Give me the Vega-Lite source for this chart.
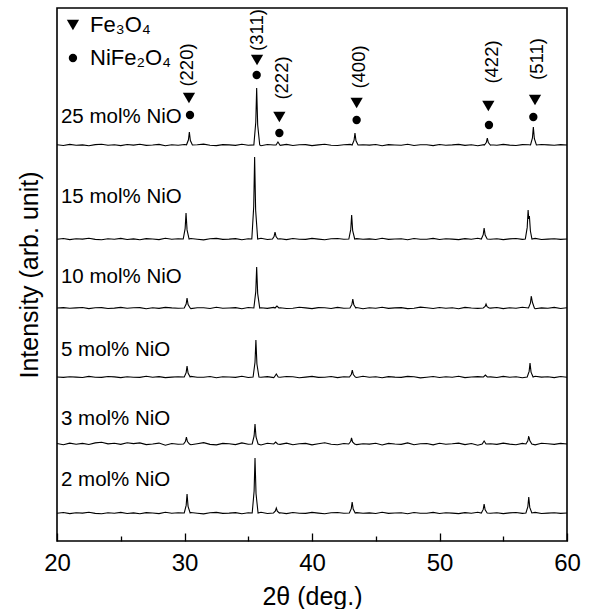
{
  "$schema": "https://vega.github.io/schema/vega-lite/v6.json",
  "width": 510,
  "height": 533,
  "autosize": "none",
  "padding": {"left": 57, "top": 8, "right": 22, "bottom": 68},
  "background": "white",
  "config": {
    "view": {"stroke": "#000", "strokeWidth": 1.6},
    "font": "Liberation Sans"
  },
  "datasets": {
    "trace": [
      {"s":"25","x":20,"y":396.3},{"s":"25","x":20.5,"y":395.5},{"s":"25","x":21,"y":396.6},{"s":"25","x":21.5,"y":395.8},{"s":"25","x":22,"y":396.1},{"s":"25","x":22.5,"y":395.3},{"s":"25","x":23,"y":396.4},{"s":"25","x":23.5,"y":396.8},{"s":"25","x":24,"y":395.7},{"s":"25","x":24.5,"y":396.2},{"s":"25","x":25,"y":395.4},{"s":"25","x":25.5,"y":396.5},{"s":"25","x":26,"y":395.9},{"s":"25","x":26.5,"y":396.7},{"s":"25","x":27,"y":395.6},{"s":"25","x":27.5,"y":396},{"s":"25","x":28,"y":396.6},{"s":"25","x":28.5,"y":395.2},{"s":"25","x":29,"y":396.3},{"s":"25","x":29.5,"y":395.8},{"s":"25","x":30,"y":396.5},
      {"s":"25","x":30.16,"y":396.2},{"s":"25","x":30.31,"y":401.2},{"s":"25","x":30.38,"y":409},{"s":"25","x":30.46,"y":400.5},{"s":"25","x":30.62,"y":396},
      {"s":"25","x":31,"y":396.2},{"s":"25","x":31.5,"y":396.9},{"s":"25","x":32,"y":395.7},{"s":"25","x":32.5,"y":395.4},{"s":"25","x":33,"y":396.4},{"s":"25","x":33.5,"y":396.1},{"s":"25","x":34,"y":395.6},{"s":"25","x":34.5,"y":396.7},{"s":"25","x":35,"y":395.8},
      {"s":"25","x":35.44,"y":396.1},{"s":"25","x":35.59,"y":418.8},{"s":"25","x":35.66,"y":453},{"s":"25","x":35.74,"y":416},{"s":"25","x":35.9,"y":396},
      {"s":"25","x":36,"y":395.3},{"s":"25","x":36.5,"y":396.5},{"s":"25","x":37,"y":396},
      {"s":"25","x":37.18,"y":396},{"s":"25","x":37.33,"y":399},{"s":"25","x":37.48,"y":396},
      {"s":"25","x":37.5,"y":395.7},{"s":"25","x":38,"y":396.6},{"s":"25","x":38.5,"y":395.5},{"s":"25","x":39,"y":396.2},{"s":"25","x":39.5,"y":396.4},{"s":"25","x":40,"y":395.4},{"s":"25","x":40.5,"y":396.1},{"s":"25","x":41,"y":396.8},{"s":"25","x":41.5,"y":395.8},{"s":"25","x":42,"y":395.5},{"s":"25","x":42.5,"y":396.3},{"s":"25","x":43,"y":396.6},
      {"s":"25","x":43.15,"y":396},{"s":"25","x":43.3,"y":400.8},{"s":"25","x":43.37,"y":408},{"s":"25","x":43.45,"y":400.2},{"s":"25","x":43.61,"y":396},
      {"s":"25","x":44,"y":396.2},{"s":"25","x":44.5,"y":395.9},{"s":"25","x":45,"y":396.5},{"s":"25","x":45.5,"y":395.3},{"s":"25","x":46,"y":396.4},{"s":"25","x":46.5,"y":396},{"s":"25","x":47,"y":395.7},{"s":"25","x":47.5,"y":396.7},{"s":"25","x":48,"y":395.5},{"s":"25","x":48.5,"y":396.2},{"s":"25","x":49,"y":396.3},{"s":"25","x":49.5,"y":395.4},{"s":"25","x":50,"y":396.5},{"s":"25","x":50.5,"y":395.8},{"s":"25","x":51,"y":396.1},{"s":"25","x":51.5,"y":396.6},{"s":"25","x":52,"y":395.6},{"s":"25","x":52.5,"y":396.3},{"s":"25","x":53,"y":395.2},{"s":"25","x":53.5,"y":396.4},
      {"s":"25","x":53.53,"y":396},{"s":"25","x":53.68,"y":398.8},{"s":"25","x":53.75,"y":403},{"s":"25","x":53.83,"y":398.5},{"s":"25","x":53.99,"y":396},
      {"s":"25","x":54,"y":396.2},{"s":"25","x":54.5,"y":395.7},{"s":"25","x":55,"y":396.6},{"s":"25","x":55.5,"y":395.9},{"s":"25","x":56,"y":395.5},{"s":"25","x":56.5,"y":396.4},{"s":"25","x":57,"y":396.2},
      {"s":"25","x":57.14,"y":396},{"s":"25","x":57.29,"y":403.2},{"s":"25","x":57.36,"y":414},{"s":"25","x":57.44,"y":402.3},{"s":"25","x":57.6,"y":396},
      {"s":"25","x":58,"y":396.5},{"s":"25","x":58.5,"y":396.1},{"s":"25","x":59,"y":395.7},{"s":"25","x":59.5,"y":396.4},{"s":"25","x":60,"y":396},

      {"s":"15","x":20,"y":301.7},{"s":"15","x":20.5,"y":302.5},{"s":"15","x":21,"y":301.4},{"s":"15","x":21.5,"y":302.2},{"s":"15","x":22,"y":301.9},{"s":"15","x":22.5,"y":302.7},{"s":"15","x":23,"y":301.6},{"s":"15","x":23.5,"y":301.2},{"s":"15","x":24,"y":302.3},{"s":"15","x":24.5,"y":301.8},{"s":"15","x":25,"y":302.6},{"s":"15","x":25.5,"y":301.5},{"s":"15","x":26,"y":302.1},{"s":"15","x":26.5,"y":301.3},{"s":"15","x":27,"y":302.4},{"s":"15","x":27.5,"y":302},{"s":"15","x":28,"y":301.4},{"s":"15","x":28.5,"y":302.8},{"s":"15","x":29,"y":301.7},{"s":"15","x":29.5,"y":302.2},
      {"s":"15","x":29.9,"y":302},{"s":"15","x":30.05,"y":312.4},{"s":"15","x":30.12,"y":328},{"s":"15","x":30.2,"y":311.1},{"s":"15","x":30.36,"y":302},
      {"s":"15","x":30.5,"y":302.5},{"s":"15","x":31,"y":301.8},{"s":"15","x":31.5,"y":301.1},{"s":"15","x":32,"y":302.3},{"s":"15","x":32.5,"y":302.6},{"s":"15","x":33,"y":301.6},{"s":"15","x":33.5,"y":301.9},{"s":"15","x":34,"y":302.4},{"s":"15","x":34.5,"y":301.3},{"s":"15","x":35,"y":302.2},
      {"s":"15","x":35.28,"y":302},{"s":"15","x":35.43,"y":334.8},{"s":"15","x":35.5,"y":384},{"s":"15","x":35.58,"y":330.7},{"s":"15","x":35.74,"y":302},
      {"s":"15","x":36,"y":302.7},{"s":"15","x":36.5,"y":301.5},
      {"s":"15","x":36.9,"y":302},{"s":"15","x":37.03,"y":304.8},{"s":"15","x":37.1,"y":309},{"s":"15","x":37.18,"y":304.5},{"s":"15","x":37.32,"y":302},
      {"s":"15","x":37.5,"y":302.3},{"s":"15","x":38,"y":301.4},{"s":"15","x":38.5,"y":302.5},{"s":"15","x":39,"y":301.8},{"s":"15","x":39.5,"y":301.6},{"s":"15","x":40,"y":302.6},{"s":"15","x":40.5,"y":301.9},{"s":"15","x":41,"y":301.2},{"s":"15","x":41.5,"y":302.2},{"s":"15","x":42,"y":302.5},{"s":"15","x":42.5,"y":301.7},
      {"s":"15","x":42.89,"y":302},{"s":"15","x":43.04,"y":311.6},{"s":"15","x":43.11,"y":326},{"s":"15","x":43.19,"y":310.4},{"s":"15","x":43.35,"y":302},
      {"s":"15","x":43.5,"y":302.4},{"s":"15","x":44,"y":301.8},{"s":"15","x":44.5,"y":302.1},{"s":"15","x":45,"y":301.5},{"s":"15","x":45.5,"y":302.7},{"s":"15","x":46,"y":301.6},{"s":"15","x":46.5,"y":302},{"s":"15","x":47,"y":302.3},{"s":"15","x":47.5,"y":301.3},{"s":"15","x":48,"y":302.5},{"s":"15","x":48.5,"y":301.8},{"s":"15","x":49,"y":301.7},{"s":"15","x":49.5,"y":302.6},{"s":"15","x":50,"y":301.5},{"s":"15","x":50.5,"y":302.2},{"s":"15","x":51,"y":301.9},{"s":"15","x":51.5,"y":301.4},{"s":"15","x":52,"y":302.4},{"s":"15","x":52.5,"y":301.7},{"s":"15","x":53,"y":302.8},
      {"s":"15","x":53.28,"y":302},{"s":"15","x":53.43,"y":306.4},{"s":"15","x":53.5,"y":313},{"s":"15","x":53.58,"y":305.9},{"s":"15","x":53.74,"y":302},
      {"s":"15","x":54,"y":301.8},{"s":"15","x":54.5,"y":302.3},{"s":"15","x":55,"y":301.4},{"s":"15","x":55.5,"y":302.1},{"s":"15","x":56,"y":302.5},{"s":"15","x":56.5,"y":301.6},
      {"s":"15","x":56.73,"y":302},{"s":"15","x":56.88,"y":313.6},{"s":"15","x":56.95,"y":331},{"s":"15","x":57.0,"y":322},{"s":"15","x":57.05,"y":325},{"s":"15","x":57.13,"y":310},{"s":"15","x":57.25,"y":302},
      {"s":"15","x":57.5,"y":302.6},{"s":"15","x":58,"y":301.5},{"s":"15","x":58.5,"y":301.9},{"s":"15","x":59,"y":302.3},{"s":"15","x":59.5,"y":301.6},{"s":"15","x":60,"y":302},

      {"s":"10","x":20,"y":233},{"s":"10","x":20.5,"y":233.4},{"s":"10","x":21,"y":232.7},{"s":"10","x":21.5,"y":233.1},{"s":"10","x":22,"y":233.5},{"s":"10","x":22.5,"y":232.4},{"s":"10","x":23,"y":233.2},{"s":"10","x":23.5,"y":233.4},{"s":"10","x":24,"y":232.5},{"s":"10","x":24.5,"y":232.9},{"s":"10","x":25,"y":233.6},{"s":"10","x":25.5,"y":232.7},{"s":"10","x":26,"y":233.2},{"s":"10","x":26.5,"y":233.4},{"s":"10","x":27,"y":232.2},{"s":"10","x":27.5,"y":233.3},{"s":"10","x":28,"y":232.6},{"s":"10","x":28.5,"y":233.6},{"s":"10","x":29,"y":233.1},{"s":"10","x":29.5,"y":232.8},
      {"s":"10","x":29.98,"y":233},{"s":"10","x":30.13,"y":237},{"s":"10","x":30.2,"y":243},{"s":"10","x":30.28,"y":236.5},{"s":"10","x":30.44,"y":233},
      {"s":"10","x":30.5,"y":232.4},{"s":"10","x":31,"y":233.3},{"s":"10","x":31.5,"y":233.2},{"s":"10","x":32,"y":232.5},{"s":"10","x":32.5,"y":233.7},{"s":"10","x":33,"y":232.7},{"s":"10","x":33.5,"y":233},{"s":"10","x":34,"y":233.4},{"s":"10","x":34.5,"y":232.3},{"s":"10","x":35,"y":233.5},
      {"s":"10","x":35.44,"y":233},{"s":"10","x":35.59,"y":249.4},{"s":"10","x":35.66,"y":274},{"s":"10","x":35.74,"y":247.4},{"s":"10","x":35.9,"y":233},
      {"s":"10","x":36,"y":233.2},{"s":"10","x":36.5,"y":232.6},{"s":"10","x":37,"y":233.6},
      {"s":"10","x":37.1,"y":233},{"s":"10","x":37.25,"y":235},{"s":"10","x":37.4,"y":233},
      {"s":"10","x":37.5,"y":233.3},{"s":"10","x":38,"y":232.5},{"s":"10","x":38.5,"y":232.8},{"s":"10","x":39,"y":233.8},{"s":"10","x":39.5,"y":233.1},{"s":"10","x":40,"y":232.4},{"s":"10","x":40.5,"y":233.4},{"s":"10","x":41,"y":233.2},{"s":"10","x":41.5,"y":232.5},{"s":"10","x":42,"y":233.6},{"s":"10","x":42.5,"y":232.7},
      {"s":"10","x":42.98,"y":233},{"s":"10","x":43.13,"y":236.6},{"s":"10","x":43.2,"y":242},{"s":"10","x":43.28,"y":236.2},{"s":"10","x":43.44,"y":233},
      {"s":"10","x":43.5,"y":233.5},{"s":"10","x":44,"y":232.3},{"s":"10","x":44.5,"y":233.3},{"s":"10","x":45,"y":232.8},{"s":"10","x":45.5,"y":233.7},{"s":"10","x":46,"y":232.6},{"s":"10","x":46.5,"y":233.1},{"s":"10","x":47,"y":233.4},{"s":"10","x":47.5,"y":232.4},{"s":"10","x":48,"y":232.7},{"s":"10","x":48.5,"y":233.9},{"s":"10","x":49,"y":233.2},{"s":"10","x":49.5,"y":232.5},{"s":"10","x":50,"y":233.5},{"s":"10","x":50.5,"y":232.8},{"s":"10","x":51,"y":233.3},{"s":"10","x":51.5,"y":232.2},{"s":"10","x":52,"y":233.6},{"s":"10","x":52.5,"y":233},{"s":"10","x":53,"y":232.6},
      {"s":"10","x":53.43,"y":233},{"s":"10","x":53.58,"y":234.6},{"s":"10","x":53.65,"y":237},{"s":"10","x":53.73,"y":234.4},{"s":"10","x":53.89,"y":233},
      {"s":"10","x":54,"y":232.9},{"s":"10","x":54.5,"y":233.5},{"s":"10","x":55,"y":232.4},{"s":"10","x":55.5,"y":233.2},{"s":"10","x":56,"y":232.7},{"s":"10","x":56.5,"y":233.8},
      {"s":"10","x":56.98,"y":233},{"s":"10","x":57.13,"y":237.8},{"s":"10","x":57.2,"y":245},{"s":"10","x":57.28,"y":239},{"s":"10","x":57.44,"y":233},
      {"s":"10","x":57.5,"y":232.3},{"s":"10","x":58,"y":233.1},{"s":"10","x":58.5,"y":232.8},{"s":"10","x":59,"y":233.6},{"s":"10","x":59.5,"y":232.5},{"s":"10","x":60,"y":233.3},

      {"s":"5","x":20,"y":164},{"s":"5","x":20.5,"y":163.6},{"s":"5","x":21,"y":164.3},{"s":"5","x":21.5,"y":163.9},{"s":"5","x":22,"y":163.5},{"s":"5","x":22.5,"y":164.6},{"s":"5","x":23,"y":163.8},{"s":"5","x":23.5,"y":163.6},{"s":"5","x":24,"y":164.5},{"s":"5","x":24.5,"y":164.1},{"s":"5","x":25,"y":163.4},{"s":"5","x":25.5,"y":164.3},{"s":"5","x":26,"y":163.8},{"s":"5","x":26.5,"y":163.6},{"s":"5","x":27,"y":164.8},{"s":"5","x":27.5,"y":163.7},{"s":"5","x":28,"y":164.4},{"s":"5","x":28.5,"y":163.4},{"s":"5","x":29,"y":163.9},{"s":"5","x":29.5,"y":164.2},
      {"s":"5","x":29.98,"y":164},{"s":"5","x":30.13,"y":168.4},{"s":"5","x":30.2,"y":175},{"s":"5","x":30.28,"y":167.9},{"s":"5","x":30.44,"y":164},
      {"s":"5","x":30.5,"y":164.6},{"s":"5","x":31,"y":163.7},{"s":"5","x":31.5,"y":163.8},{"s":"5","x":32,"y":164.5},{"s":"5","x":32.5,"y":163.3},{"s":"5","x":33,"y":164.3},{"s":"5","x":33.5,"y":164},{"s":"5","x":34,"y":163.6},{"s":"5","x":34.5,"y":164.7},{"s":"5","x":35,"y":163.5},
      {"s":"5","x":35.38,"y":164},{"s":"5","x":35.53,"y":178.8},{"s":"5","x":35.6,"y":201},{"s":"5","x":35.68,"y":177},{"s":"5","x":35.84,"y":164},
      {"s":"5","x":36,"y":163.8},{"s":"5","x":36.5,"y":164.4},{"s":"5","x":37,"y":163.4},
      {"s":"5","x":37.05,"y":164},{"s":"5","x":37.2,"y":167},{"s":"5","x":37.35,"y":164},
      {"s":"5","x":37.5,"y":163.7},{"s":"5","x":38,"y":164.5},{"s":"5","x":38.5,"y":164.2},{"s":"5","x":39,"y":163.2},{"s":"5","x":39.5,"y":163.9},{"s":"5","x":40,"y":164.6},{"s":"5","x":40.5,"y":163.6},{"s":"5","x":41,"y":163.8},{"s":"5","x":41.5,"y":164.5},{"s":"5","x":42,"y":163.4},{"s":"5","x":42.5,"y":164.3},
      {"s":"5","x":42.94,"y":164},{"s":"5","x":43.09,"y":166.8},{"s":"5","x":43.16,"y":171},{"s":"5","x":43.24,"y":166.5},{"s":"5","x":43.4,"y":164},
      {"s":"5","x":43.5,"y":163.5},{"s":"5","x":44,"y":164.7},{"s":"5","x":44.5,"y":163.7},{"s":"5","x":45,"y":164.2},{"s":"5","x":45.5,"y":163.3},{"s":"5","x":46,"y":164.4},{"s":"5","x":46.5,"y":163.9},{"s":"5","x":47,"y":163.6},{"s":"5","x":47.5,"y":164.6},{"s":"5","x":48,"y":164.3},{"s":"5","x":48.5,"y":163.1},{"s":"5","x":49,"y":163.8},{"s":"5","x":49.5,"y":164.5},{"s":"5","x":50,"y":163.5},{"s":"5","x":50.5,"y":164.2},{"s":"5","x":51,"y":163.7},{"s":"5","x":51.5,"y":164.8},{"s":"5","x":52,"y":163.4},{"s":"5","x":52.5,"y":164},{"s":"5","x":53,"y":164.4},
      {"s":"5","x":53.45,"y":164},{"s":"5","x":53.6,"y":166},{"s":"5","x":53.75,"y":164},
      {"s":"5","x":54,"y":164.1},{"s":"5","x":54.5,"y":163.5},{"s":"5","x":55,"y":164.6},{"s":"5","x":55.5,"y":163.8},{"s":"5","x":56,"y":164.3},{"s":"5","x":56.5,"y":163.2},
      {"s":"5","x":56.88,"y":164},{"s":"5","x":57.03,"y":169.6},{"s":"5","x":57.1,"y":178},{"s":"5","x":57.18,"y":168.9},{"s":"5","x":57.34,"y":164},
      {"s":"5","x":57.5,"y":164.7},{"s":"5","x":58,"y":163.9},{"s":"5","x":58.5,"y":164.2},{"s":"5","x":59,"y":163.4},{"s":"5","x":59.5,"y":164.5},{"s":"5","x":60,"y":163.7},

      {"s":"3","x":20,"y":97.5},{"s":"3","x":20.5,"y":96.3},{"s":"3","x":21,"y":97.9},{"s":"3","x":21.5,"y":96.7},{"s":"3","x":22,"y":97.6},{"s":"3","x":22.5,"y":96.5},{"s":"3","x":23,"y":98.1},{"s":"3","x":23.5,"y":98.7},{"s":"3","x":24,"y":97.1},{"s":"3","x":24.5,"y":97.8},{"s":"3","x":25,"y":96.6},{"s":"3","x":25.5,"y":98.3},{"s":"3","x":26,"y":97.4},{"s":"3","x":26.5,"y":98.1},{"s":"3","x":27,"y":96.4},{"s":"3","x":27.5,"y":97},{"s":"3","x":28,"y":97.9},{"s":"3","x":28.5,"y":95.8},{"s":"3","x":29,"y":97.5},{"s":"3","x":29.5,"y":96.7},
      {"s":"3","x":29.93,"y":97},{"s":"3","x":30.08,"y":99.8},{"s":"3","x":30.15,"y":104},{"s":"3","x":30.23,"y":99.5},{"s":"3","x":30.39,"y":97},
      {"s":"3","x":30.5,"y":96.3},{"s":"3","x":31,"y":97.3},{"s":"3","x":31.5,"y":98.4},{"s":"3","x":32,"y":96.6},{"s":"3","x":32.5,"y":96.1},{"s":"3","x":33,"y":97.6},{"s":"3","x":33.5,"y":97.2},{"s":"3","x":34,"y":96.4},{"s":"3","x":34.5,"y":98.1},{"s":"3","x":35,"y":96.7},
      {"s":"3","x":35.31,"y":97},{"s":"3","x":35.46,"y":105},{"s":"3","x":35.53,"y":117},{"s":"3","x":35.61,"y":104},{"s":"3","x":35.77,"y":97},
      {"s":"3","x":36,"y":96},{"s":"3","x":36.5,"y":97.8},
      {"s":"3","x":37.0,"y":97},{"s":"3","x":37.15,"y":99},{"s":"3","x":37.3,"y":97},
      {"s":"3","x":37.5,"y":96.6},{"s":"3","x":38,"y":97.9},{"s":"3","x":38.5,"y":96.3},{"s":"3","x":39,"y":97.3},{"s":"3","x":39.5,"y":97.6},{"s":"3","x":40,"y":96.1},{"s":"3","x":40.5,"y":97.2},{"s":"3","x":41,"y":98.2},{"s":"3","x":41.5,"y":96.7},{"s":"3","x":42,"y":96.3},{"s":"3","x":42.5,"y":97.5},
      {"s":"3","x":42.88,"y":97},{"s":"3","x":43.03,"y":99.4},{"s":"3","x":43.1,"y":103},{"s":"3","x":43.18,"y":99.1},{"s":"3","x":43.34,"y":97},
      {"s":"3","x":43.5,"y":96.4},{"s":"3","x":44,"y":97.3},{"s":"3","x":44.5,"y":96.9},{"s":"3","x":45,"y":97.8},{"s":"3","x":45.5,"y":96},{"s":"3","x":46,"y":97.6},{"s":"3","x":46.5,"y":97},{"s":"3","x":47,"y":96.6},{"s":"3","x":47.5,"y":98.1},{"s":"3","x":48,"y":96.3},{"s":"3","x":48.5,"y":97.3},{"s":"3","x":49,"y":97.5},{"s":"3","x":49.5,"y":96.1},{"s":"3","x":50,"y":97.8},{"s":"3","x":50.5,"y":96.7},{"s":"3","x":51,"y":97.2},{"s":"3","x":51.5,"y":97.9},{"s":"3","x":52,"y":96.4},{"s":"3","x":52.5,"y":97.5},{"s":"3","x":53,"y":95.8},
      {"s":"3","x":53.35,"y":97},{"s":"3","x":53.5,"y":100},{"s":"3","x":53.65,"y":97},
      {"s":"3","x":54,"y":97.3},{"s":"3","x":54.5,"y":96.6},{"s":"3","x":55,"y":97.9},{"s":"3","x":55.5,"y":96.9},{"s":"3","x":56,"y":96.3},{"s":"3","x":56.5,"y":97.6},
      {"s":"3","x":56.78,"y":97},{"s":"3","x":56.93,"y":100.2},{"s":"3","x":57.0,"y":105},{"s":"3","x":57.08,"y":100.5},{"s":"3","x":57.24,"y":97},
      {"s":"3","x":57.5,"y":96.1},{"s":"3","x":58,"y":97.8},{"s":"3","x":58.5,"y":97.2},{"s":"3","x":59,"y":96.6},{"s":"3","x":59.5,"y":97.6},{"s":"3","x":60,"y":97},

      {"s":"2","x":20,"y":27.7},{"s":"2","x":20.5,"y":28.5},{"s":"2","x":21,"y":27.4},{"s":"2","x":21.5,"y":28.2},{"s":"2","x":22,"y":27.9},{"s":"2","x":22.5,"y":28.7},{"s":"2","x":23,"y":27.6},{"s":"2","x":23.5,"y":27.2},{"s":"2","x":24,"y":28.3},{"s":"2","x":24.5,"y":27.8},{"s":"2","x":25,"y":28.6},{"s":"2","x":25.5,"y":27.5},{"s":"2","x":26,"y":28.1},{"s":"2","x":26.5,"y":27.3},{"s":"2","x":27,"y":28.4},{"s":"2","x":27.5,"y":28},{"s":"2","x":28,"y":27.4},{"s":"2","x":28.5,"y":28.8},{"s":"2","x":29,"y":27.7},{"s":"2","x":29.5,"y":28.2},
      {"s":"2","x":29.98,"y":28},{"s":"2","x":30.13,"y":35.6},{"s":"2","x":30.2,"y":47},{"s":"2","x":30.28,"y":34.7},{"s":"2","x":30.44,"y":28},
      {"s":"2","x":30.5,"y":28.5},{"s":"2","x":31,"y":27.8},{"s":"2","x":31.5,"y":27.1},{"s":"2","x":32,"y":28.3},{"s":"2","x":32.5,"y":28.6},{"s":"2","x":33,"y":27.6},{"s":"2","x":33.5,"y":27.9},{"s":"2","x":34,"y":28.4},{"s":"2","x":34.5,"y":27.3},{"s":"2","x":35,"y":28.2},
      {"s":"2","x":35.31,"y":28},{"s":"2","x":35.46,"y":50},{"s":"2","x":35.53,"y":83},{"s":"2","x":35.61,"y":47.3},{"s":"2","x":35.77,"y":28},
      {"s":"2","x":36,"y":28.7},{"s":"2","x":36.5,"y":27.5},
      {"s":"2","x":36.98,"y":28},{"s":"2","x":37.13,"y":30},{"s":"2","x":37.2,"y":33},{"s":"2","x":37.28,"y":29.8},{"s":"2","x":37.44,"y":28},
      {"s":"2","x":37.5,"y":28.3},{"s":"2","x":38,"y":27.4},{"s":"2","x":38.5,"y":28.5},{"s":"2","x":39,"y":27.8},{"s":"2","x":39.5,"y":27.6},{"s":"2","x":40,"y":28.6},{"s":"2","x":40.5,"y":27.9},{"s":"2","x":41,"y":27.2},{"s":"2","x":41.5,"y":28.2},{"s":"2","x":42,"y":28.5},{"s":"2","x":42.5,"y":27.7},
      {"s":"2","x":42.93,"y":28},{"s":"2","x":43.08,"y":32.4},{"s":"2","x":43.15,"y":39},{"s":"2","x":43.23,"y":31.9},{"s":"2","x":43.39,"y":28},
      {"s":"2","x":43.5,"y":28.4},{"s":"2","x":44,"y":27.8},{"s":"2","x":44.5,"y":28.1},{"s":"2","x":45,"y":27.5},{"s":"2","x":45.5,"y":28.7},{"s":"2","x":46,"y":27.6},{"s":"2","x":46.5,"y":28},{"s":"2","x":47,"y":28.3},{"s":"2","x":47.5,"y":27.3},{"s":"2","x":48,"y":28.5},{"s":"2","x":48.5,"y":27.8},{"s":"2","x":49,"y":27.7},{"s":"2","x":49.5,"y":28.6},{"s":"2","x":50,"y":27.5},{"s":"2","x":50.5,"y":28.2},{"s":"2","x":51,"y":27.9},{"s":"2","x":51.5,"y":27.4},{"s":"2","x":52,"y":28.4},{"s":"2","x":52.5,"y":27.7},{"s":"2","x":53,"y":28.8},
      {"s":"2","x":53.28,"y":28},{"s":"2","x":53.43,"y":31.6},{"s":"2","x":53.5,"y":37},{"s":"2","x":53.58,"y":31.2},{"s":"2","x":53.74,"y":28},
      {"s":"2","x":54,"y":27.8},{"s":"2","x":54.5,"y":28.3},{"s":"2","x":55,"y":27.4},{"s":"2","x":55.5,"y":28.1},{"s":"2","x":56,"y":28.5},{"s":"2","x":56.5,"y":27.6},
      {"s":"2","x":56.78,"y":28},{"s":"2","x":56.93,"y":34.4},{"s":"2","x":57.0,"y":44},{"s":"2","x":57.08,"y":33.6},{"s":"2","x":57.24,"y":28},
      {"s":"2","x":57.5,"y":28.6},{"s":"2","x":58,"y":27.5},{"s":"2","x":58.5,"y":27.9},{"s":"2","x":59,"y":28.3},{"s":"2","x":59.5,"y":27.6},{"s":"2","x":60,"y":28}
    ],
    "sym": [
      {"k":"Fe3O4","x":30.35,"y":443},{"k":"Fe3O4","x":35.69,"y":481},{"k":"Fe3O4","x":37.44,"y":424},{"k":"Fe3O4","x":43.5,"y":438},{"k":"Fe3O4","x":53.83,"y":435},{"k":"Fe3O4","x":57.49,"y":441},
      {"k":"NiFe2O4","x":30.43,"y":426},{"k":"NiFe2O4","x":35.66,"y":466},{"k":"NiFe2O4","x":37.44,"y":408},{"k":"NiFe2O4","x":43.5,"y":421},{"k":"NiFe2O4","x":53.88,"y":416},{"k":"NiFe2O4","x":57.36,"y":424},
      {"k":"Fe3O4","x":21.25,"y":516},{"k":"NiFe2O4","x":21.25,"y":483}
    ],
    "hkl": [
      {"t":"(220)","x":30.2,"y":476},{"t":"(311)","x":35.69,"y":511},{"t":"(222)","x":37.65,"y":463},{"t":"(400)","x":43.69,"y":474},{"t":"(422)","x":54.12,"y":479},{"t":"(511)","x":57.65,"y":482}
    ],
    "lab": [
      {"t":"25 mol% NiO","x":20.31,"y":424},{"t":"15 mol% NiO","x":20.31,"y":344},{"t":"10 mol% NiO","x":20.31,"y":264},{"t":"5 mol% NiO","x":20.31,"y":191},{"t":"3 mol% NiO","x":20.31,"y":122},{"t":"2 mol% NiO","x":20.31,"y":61}
    ],
    "leg": [
      {"t":"Fe₃O₄","x":22.59,"y":516},{"t":"NiFe₂O₄","x":22.59,"y":483}
    ]
  },
  "encoding": {
    "x": {"field": "x", "type": "quantitative", "scale": {"domain": [20, 60], "nice": false, "zero": false},
      "axis": {"title": "2θ (deg.)", "values": [20, 25, 30, 35, 40, 45, 50, 55, 60],
        "labelExpr": "datum.value % 10 === 0 ? datum.label : ''",
        "labelFlush": false, "labelOverlap": false,
        "tickSize": {"condition": {"test": "datum.value % 10 !== 0", "value": -5}, "value": -8},
        "tickColor": "#000", "tickWidth": 1.3, "domain": false, "grid": false,
        "labelFont": "Liberation Sans", "labelFontSize": 24, "labelColor": "#000", "labelPadding": 18,
        "titleFont": "Liberation Sans", "titleFontSize": 25, "titleFontWeight": "normal", "titleColor": "#000", "titlePadding": 6}},
    "y": {"field": "y", "type": "quantitative", "scale": {"domain": [0, 533], "nice": false, "zero": false},
      "axis": {"title": "Intensity (arb. unit)", "labels": false, "ticks": false, "domain": false, "grid": false,
        "titleFont": "Liberation Sans", "titleFontSize": 25, "titleFontWeight": "normal", "titleColor": "#000", "titlePadding": 15}}
  },
  "layer": [
    {"data": {"name": "trace"}, "mark": {"type": "line", "color": "#000", "strokeWidth": 1.1, "interpolate": "linear"},
      "encoding": {"detail": {"field": "s", "type": "nominal"}}},
    {"data": {"name": "sym"}, "mark": {"type": "point", "filled": true, "color": "#000", "opacity": 1},
      "encoding": {
        "shape": {"field": "k", "type": "nominal", "scale": {"domain": ["Fe3O4", "NiFe2O4"], "range": ["triangle-down", "circle"]}, "legend": null},
        "size": {"field": "k", "type": "nominal", "scale": {"domain": ["Fe3O4", "NiFe2O4"], "range": [150, 70]}, "legend": null}}},
    {"data": {"name": "hkl"}, "mark": {"type": "text", "angle": 270, "align": "center", "baseline": "middle", "font": "Liberation Sans", "fontSize": 18.5, "color": "#000"},
      "encoding": {"text": {"field": "t"}}},
    {"data": {"name": "lab"}, "mark": {"type": "text", "align": "left", "baseline": "middle", "font": "Liberation Sans", "fontSize": 20.5, "color": "#000"},
      "encoding": {"text": {"field": "t"}}},
    {"data": {"name": "leg"}, "mark": {"type": "text", "align": "left", "baseline": "middle", "font": "Liberation Sans", "fontSize": 22, "color": "#000"},
      "encoding": {"text": {"field": "t"}}}
  ]
}
